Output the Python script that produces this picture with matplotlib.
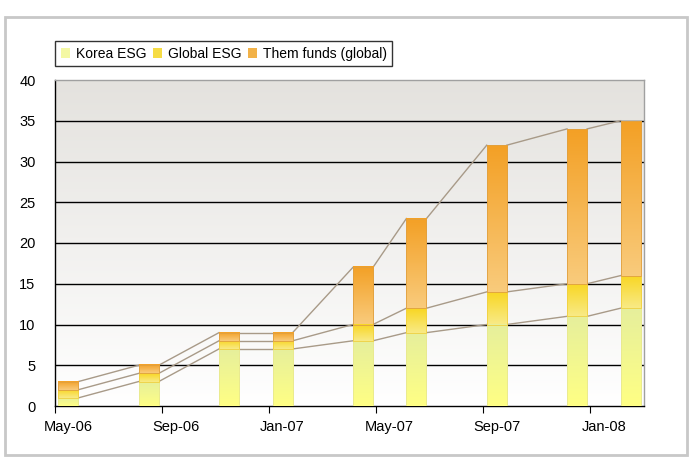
import matplotlib
matplotlib.use("Agg")
import matplotlib.pyplot as plt
import numpy as np
import pandas as pd
from matplotlib.colors import LinearSegmentedColormap
from matplotlib.patches import Rectangle, Patch

plt.rcParams['font.family'] = ['Liberation Sans', 'DejaVu Sans']

# ---- data ----
dates = ['2006-05', '2006-08', '2006-11', '2007-01', '2007-04',
         '2007-06', '2007-09', '2007-12', '2008-02']
korea = [1, 3, 7, 7, 8, 9, 10, 11, 12]
global_esg = [1, 1, 1, 1, 2, 3, 4, 4, 4]
them = [1, 1, 1, 1, 7, 11, 18, 19, 19]
series_names = ['Korea ESG', 'Global ESG', 'Them funds (global)']
tick_labels = ['May-06', 'Sep-06', 'Jan-07', 'May-07', 'Sep-07', 'Jan-08']
yticks = [0, 5, 10, 15, 20, 25, 30, 35, 40]

start = pd.Period('2006-05', freq='M')
end = pd.Period('2008-02', freq='M')
xs = np.array([(pd.Period(d, freq='M') - start).n for d in dates]) + 0.5
nmonths = (end - start).n + 1

# gradient (bottom color, top color) per series
grads = [('#ffff84', '#e6ef9c'), ('#f9ea86', '#f8d622'), ('#f9cb7c', '#f3a025')]
edges = ['#e8e890', '#f0d040', '#e0a040']
legend_cols = ['#f4f8a4', '#f6dc44', '#f2b248']

fig = plt.figure(figsize=(6.93, 4.62), dpi=100)
# outer border
fig.patches.append(Rectangle((5 / 693, 1 - 455 / 462), 682 / 693, 438 / 462,
                             transform=fig.transFigure, fill=False,
                             edgecolor='#c8c8c8', linewidth=2))

ax = fig.add_axes([55 / 693, 1 - 406 / 462, 589 / 693, 326 / 462])
ax.set_xlim(0, nmonths)
ax.set_ylim(0, 40)

# background gradient
bg = LinearSegmentedColormap.from_list('bg', ['#ffffff', '#e4e2de'])
ax.imshow(np.linspace(0, 1, 256).reshape(-1, 1), extent=[0, nmonths, 0, 40],
          origin='lower', aspect='auto', cmap=bg, zorder=0)

for y in yticks[1:-1]:
    ax.axhline(y, color='black', linewidth=1, zorder=1)

width = 0.75
bottoms = np.zeros(len(xs))
stacks = [korea, global_esg, them]
tops_all = []
for vals, (cb, ct), ec in zip(stacks, grads, edges):
    vals = np.array(vals, dtype=float)
    cmap = LinearSegmentedColormap.from_list('g', [cb, ct])
    tops = bottoms + vals
    for x, b, t in zip(xs, bottoms, tops):
        ax.imshow(np.linspace(0, 1, 128).reshape(-1, 1),
                  extent=[x - width / 2, x + width / 2, b, t],
                  origin='lower', aspect='auto', cmap=cmap, zorder=3)
        ax.add_patch(Rectangle((x - width / 2, b), width, t - b, fill=False,
                               edgecolor=ec, linewidth=0.6, zorder=4))
    tops_all.append(tops)
    bottoms = tops

# series lines connecting bar tops
for tops in tops_all:
    for i in range(len(xs) - 1):
        ax.plot([xs[i] + width / 2, xs[i + 1] - width / 2], [tops[i], tops[i + 1]],
                color='#a89a88', linewidth=1, zorder=2)

ax.set_xlim(0, nmonths)
ax.set_ylim(0, 40)

# axes styling
for s in ['top', 'right']:
    ax.spines[s].set_color('#a0a0a0')
    ax.spines[s].set_linewidth(1)
for s in ['left', 'bottom']:
    ax.spines[s].set_color('black')
    ax.spines[s].set_linewidth(1)

ax.set_yticks(yticks)
ax.set_yticklabels([str(v) for v in yticks], fontsize=10.5)
ax.tick_params(axis='y', length=0, pad=14)

major = np.arange(0, nmonths, 4)
ax.set_xticks(major)
ax.set_xticklabels([''] * len(major))
ax.set_xticks(major + 0.5, minor=True)
ax.set_xticklabels(tick_labels, minor=True, fontsize=10.5)
ax.tick_params(axis='x', which='major', length=5, direction='out', color='black')
ax.tick_params(axis='x', which='minor', length=0, pad=10)

# legend
handles = [Patch(facecolor=c, edgecolor='none') for c in legend_cols]
leg = fig.legend(handles, series_names, loc='upper left',
                 bbox_to_anchor=(55 / 693, 1 - 41 / 462), ncol=3,
                 frameon=True, fancybox=False, fontsize=10,
                 handlelength=0.7, handleheight=0.7, handletextpad=0.4,
                 columnspacing=0.45, borderpad=0.4, borderaxespad=0)
leg.get_frame().set_edgecolor('black')
leg.get_frame().set_linewidth(1)

fig.savefig('out.png', dpi=100)
